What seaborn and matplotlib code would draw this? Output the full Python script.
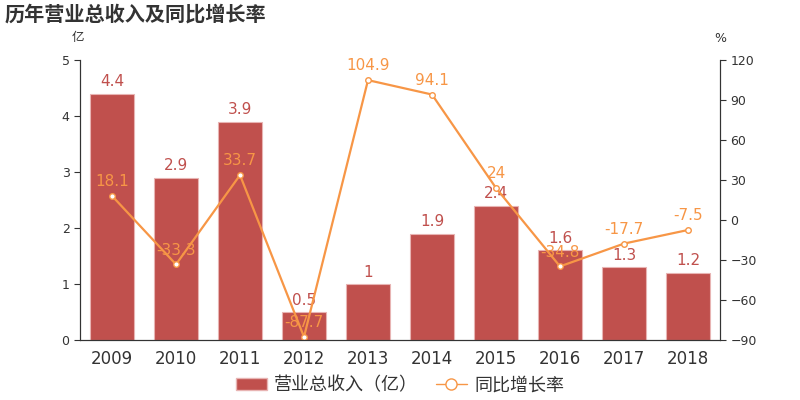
import matplotlib
matplotlib.use("Agg")
import matplotlib.pyplot as plt
import seaborn as sns
import pandas as pd
from matplotlib.lines import Line2D
from matplotlib.patches import Patch

years = ["2009", "2010", "2011", "2012", "2013", "2014", "2015", "2016", "2017", "2018"]
revenue = [4.4, 2.9, 3.9, 0.5, 1.0, 1.9, 2.4, 1.6, 1.3, 1.2]
growth = [18.1, -33.3, 33.7, -87.7, 104.9, 94.1, 24.0, -34.8, -17.7, -7.5]
revenue_labels = ["4.4", "2.9", "3.9", "0.5", "1", "1.9", "2.4", "1.6", "1.3", "1.2"]
growth_labels = ["18.1", "-33.3", "33.7", "-87.7", "104.9", "94.1", "24", "-34.8", "-17.7", "-7.5"]

sns.set_style("white")
plt.rcParams['font.family'] = ['DejaVu Sans', 'Noto Sans CJK SC']
CJK = ['Noto Sans CJK SC', 'DejaVu Sans']

bar_color = "#c0504d"
line_color = "#f79646"
axis_color = "#333333"

df = pd.DataFrame({"year": years, "revenue": revenue, "growth": growth})

fig = plt.figure(figsize=(8, 4), dpi=100)
ax = fig.add_axes([0.1, 0.15, 0.8, 0.70])
sns.barplot(data=df, x="year", y="revenue", color=bar_color, width=0.69,
            edgecolor="#e8b4b3", linewidth=0.8, saturation=1, ax=ax)
ax.set_ylim(0, 5)
ax.set_yticks([0, 1, 2, 3, 4, 5])
ax.set_xlim(-0.5, 9.5)
ax.set_xlabel("")
ax.set_ylabel("")

ax2 = ax.twinx()
sns.lineplot(x=list(range(len(years))), y=growth, color=line_color, linewidth=1.6,
             marker="o", markersize=4, markerfacecolor="white", markeredgecolor=line_color,
             markeredgewidth=1, ax=ax2)
ax2.set_ylim(-90, 120)
ax2.set_yticks([-90, -60, -30, 0, 30, 60, 90, 120])

for i, (v, t) in enumerate(zip(revenue, revenue_labels)):
    ax.text(i, v + 0.08, t, ha="center", va="bottom", color=bar_color, fontsize=11)
for i, (v, t) in enumerate(zip(growth, growth_labels)):
    ax2.text(i, v + 5, t, ha="center", va="bottom", color=line_color, fontsize=11)

for a in (ax, ax2):
    a.spines["top"].set_visible(False)
    for s in ["left", "right", "bottom"]:
        a.spines[s].set_color(axis_color)
        a.spines[s].set_linewidth(0.8)
    a.tick_params(axis="both", direction="out", length=4, width=0.8, color=axis_color,
                  labelcolor=axis_color, labelsize=9)
ax.tick_params(axis="x", labelsize=12)
ax.tick_params(axis="y", left=True)
ax2.tick_params(axis="y", right=True)
ax.set_xticks(range(len(years)))
ax.set_xticklabels(years)

fig.text(0.006, 0.965, "历年营业总收入及同比增长率", fontsize=14.5, fontweight="bold",
         color=axis_color, ha="left", va="center", family=CJK)
fig.text(0.098, 0.905, "亿", fontsize=9, color=axis_color, ha="center", va="center", family=CJK)
fig.text(0.9, 0.905, "%", fontsize=9, color=axis_color, ha="center", va="center")

handles = [Patch(facecolor=bar_color, edgecolor="#e8b4b3", label="营业总收入（亿）"),
           Line2D([0], [0], color=line_color, marker="o", markerfacecolor="white",
                  markeredgecolor=line_color, markersize=8, linewidth=1.0, label="同比增长率")]
fig.legend(handles=handles, loc="center", bbox_to_anchor=(0.5, 0.037), ncol=2,
           frameon=False, prop={"family": CJK, "size": 13}, handlelength=1.7,
           handletextpad=0.4, columnspacing=1.0, labelcolor=axis_color)

fig.savefig("out.png", dpi=100)
